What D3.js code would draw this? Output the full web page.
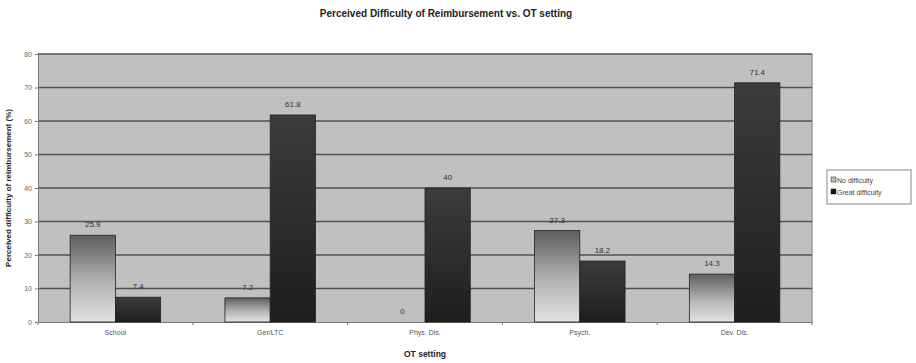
<!DOCTYPE html>
<html><head><meta charset="utf-8">
<script src="https://cdn.jsdelivr.net/npm/d3@7"></script>
<style>body{margin:0;background:#fff}svg{display:block;font-family:"Liberation Sans",Arial,sans-serif}</style>
</head><body><svg id="c" width="916" height="363"></svg>
<script>
const categories = ["School", "Ger/LTC", "Phys. Dis.", "Psych.", "Dev. Dis."];
const seriesNames = ["No difficulty", "Great difficulty"];
const noDifficulty = [25.9, 7.2, 0, 27.3, 14.3];
const greatDifficulty = [7.4, 61.8, 40, 18.2, 71.4];
const yTicks = [0, 10, 20, 30, 40, 50, 60, 70, 80];

const svg = d3.select("#c");
const m = {l: 38, r: 104, t: 54, b: 41};
const W = 916, H = 363;
const x0 = d3.scaleBand().domain(categories).range([m.l, W - m.r]).paddingInner(0).paddingOuter(0);
const x1 = d3.scaleBand().domain(seriesNames).range([0, x0.bandwidth()]).paddingInner(0).paddingOuter(0.71);
const y = d3.scaleLinear().domain([0, 80]).range([H - m.b, m.t]);

const defs = svg.append("defs");
const g1 = defs.append("linearGradient").attr("id","gl").attr("x1",0).attr("y1",0).attr("x2",0).attr("y2",1);
g1.append("stop").attr("offset","0").attr("stop-color","#5e5e5e");
g1.append("stop").attr("offset","0.55").attr("stop-color","#b4b4b4");
g1.append("stop").attr("offset","1").attr("stop-color","#e2e2e2");
const g2 = defs.append("linearGradient").attr("id","gd").attr("x1",0).attr("y1",0).attr("x2",0).attr("y2",1);
g2.append("stop").attr("offset","0").attr("stop-color","#3c3c3c");
g2.append("stop").attr("offset","1").attr("stop-color","#1e1e1e");

// plot background
svg.append("rect").attr("x", m.l).attr("y", m.t).attr("width", W - m.r - m.l).attr("height", H - m.b - m.t)
  .attr("fill", "#c0c0c0");
svg.append("line").attr("x1", W - m.r).attr("x2", W - m.r).attr("y1", m.t).attr("y2", H - m.b)
  .attr("stroke", "#9a9a9a").attr("stroke-width", 1.5);

// gridlines
svg.append("g").selectAll("line").data(yTicks.filter(d => d > 0)).join("line")
  .attr("x1", m.l).attr("x2", W - m.r).attr("y1", d => y(d)).attr("y2", d => y(d))
  .attr("stroke", "#505050").attr("stroke-width", 1.3);

// y axis
const ya = svg.append("g").attr("transform", `translate(${m.l},0)`)
  .call(d3.axisLeft(y).tickValues(yTicks).tickSize(3).tickPadding(3));
ya.select(".domain").attr("stroke", "#777");
ya.selectAll(".tick line").attr("stroke", "#777");
ya.selectAll("text").attr("font-size", 7).attr("fill", "#666");

// x axis
const xa = svg.append("g").attr("transform", `translate(0,${H - m.b})`)
  .call(d3.axisBottom(x0).tickSize(0).tickPadding(8));
xa.select(".domain").attr("stroke", "#777");
xa.selectAll("text").attr("font-size", 7).attr("fill", "#555");
svg.append("g").selectAll("line").data(categories.concat([null])).join("line")
  .attr("x1", (d,i) => m.l + i * x0.bandwidth()).attr("x2", (d,i) => m.l + i * x0.bandwidth())
  .attr("y1", H - m.b).attr("y2", H - m.b + 3).attr("stroke", "#777");

// bars
const data = categories.map((c, i) => ({c, vals: [
  {s: seriesNames[0], v: noDifficulty[i]}, {s: seriesNames[1], v: greatDifficulty[i]}]}));
const grp = svg.append("g").selectAll("g").data(data).join("g")
  .attr("transform", d => `translate(${x0(d.c)},0)`);
grp.selectAll("rect").data(d => d.vals.filter(e => e.v > 0)).join("rect")
  .attr("x", d => x1(d.s)).attr("width", x1.bandwidth())
  .attr("y", d => y(d.v)).attr("height", d => y(0) - y(d.v))
  .attr("fill", d => d.s === seriesNames[0] ? "url(#gl)" : "url(#gd)")
  .attr("stroke", "#222").attr("stroke-width", 0.8);
grp.selectAll("text").data(d => d.vals).join("text")
  .attr("x", d => x1(d.s) + x1.bandwidth() / 2).attr("y", d => y(d.v) - 8)
  .attr("text-anchor", "middle").attr("font-size", 8).attr("fill", "#333")
  .text(d => d.v);

// title
svg.append("text").attr("x", 446).attr("y", 17).attr("text-anchor", "middle")
  .attr("font-size", 10).attr("font-weight", "bold").attr("fill", "#222")
  .text("Perceived Difficulty of Reimbursement vs. OT setting");
svg.append("text").attr("x", (m.l + W - m.r) / 2).attr("y", 357).attr("text-anchor", "middle")
  .attr("font-size", 8.5).attr("font-weight", "bold").attr("fill", "#222").text("OT setting");
svg.append("text").attr("transform", `translate(11,188) rotate(-90)`)
  .attr("text-anchor", "middle").attr("font-size", 8).attr("font-weight", "bold").attr("fill", "#222")
  .text("Perceived difficulty of reimbursement (%)");

// legend
const lg = svg.append("g").attr("transform", "translate(827,170)");
lg.append("rect").attr("width", 84).attr("height", 34).attr("fill", "#fff").attr("stroke", "#888");
seriesNames.forEach((s, i) => {
  lg.append("rect").attr("x", 4).attr("y", 7 + i * 12).attr("width", 5).attr("height", 5)
    .attr("fill", i === 0 ? "#bbb" : "#111").attr("stroke", "#222").attr("stroke-width", 0.5);
  lg.append("text").attr("x", 10).attr("y", 12.5 + i * 12).attr("font-size", 7).attr("fill", "#444").text(s);
});
</script></body></html>
